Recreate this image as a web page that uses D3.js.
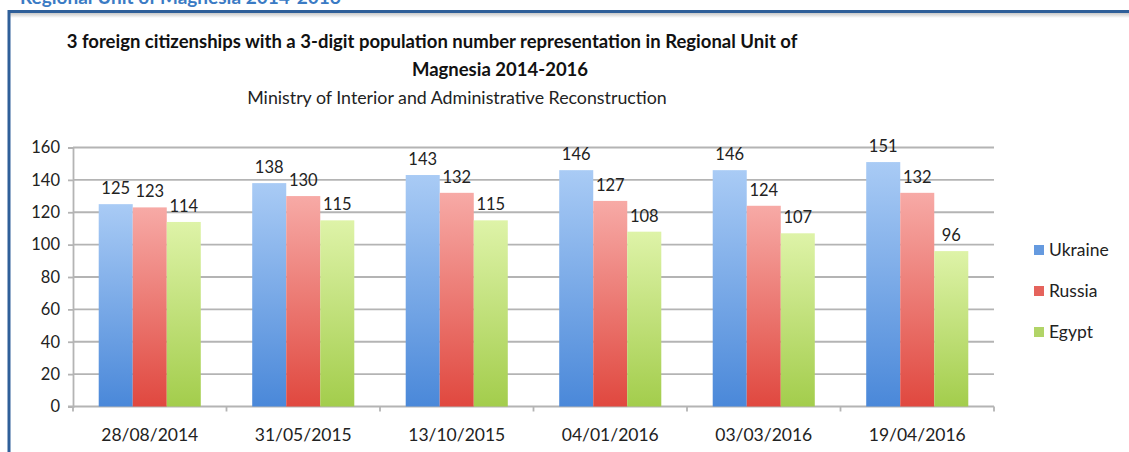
<!DOCTYPE html>
<html>
<head>
<meta charset="utf-8">
<script src="https://cdnjs.cloudflare.com/ajax/libs/d3/7.8.5/d3.min.js"></script>
<style>
  html, body { margin: 0; padding: 0; background: #fff; }
  svg { display: block; }
  text { font-family: Lato, "Open Sans", sans-serif; }
</style>
</head>
<body>
<svg id="chart" width="1129" height="452"></svg>
<script>
// Survey dates (categories)
const dates = ["28/08/2014", "31/05/2015", "13/10/2015", "04/01/2016", "03/03/2016", "19/04/2016"];
// Series
const seriesNames = ["Ukraine", "Russia", "Egypt"];
const ukraine = [125, 138, 143, 146, 146, 151];
const russia  = [123, 130, 132, 127, 124, 132];
const egypt   = [114, 115, 115, 108, 107, 96];
const yTicks = [0, 20, 40, 60, 80, 100, 120, 140, 160];

const seriesValues = [ukraine, russia, egypt];
const colors = {
  Ukraine: ["#a9cbf5", "#4a88d9"],
  Russia:  ["#f7aaa6", "#e0483f"],
  Egypt:   ["#def3a8", "#a3cd4c"]
};

const svg = d3.select("#chart");
const W = 1129, H = 452;

// gradients
const defs = svg.append("defs");
seriesNames.forEach(s => {
  const g = defs.append("linearGradient").attr("id", "grad-" + s)
    .attr("x1", 0).attr("y1", 0).attr("x2", 0).attr("y2", 1);
  g.append("stop").attr("offset", "0%").attr("stop-color", colors[s][0]);
  g.append("stop").attr("offset", "100%").attr("stop-color", colors[s][1]);
});
const shadow = defs.append("linearGradient").attr("id", "shadow")
  .attr("x1", 0).attr("y1", 0).attr("x2", 0).attr("y2", 1);
shadow.append("stop").attr("offset", "0%").attr("stop-color", "#c8c8c8");
shadow.append("stop").attr("offset", "100%").attr("stop-color", "#ffffff");

// Section heading running above the frame
svg.append("text")
  .attr("x", 20).attr("y", 4)
  .attr("font-size", 19).attr("font-weight", "bold")
  .attr("fill", "#3b7bc4")
  .text("Regional Unit of Magnesia 2014-2016");

// Frame
svg.append("rect").attr("x", 9).attr("y", 13).attr("width", W).attr("height", 5).attr("fill", "url(#shadow)");
svg.append("line").attr("x1", 8).attr("x2", W).attr("y1", 11.5).attr("y2", 11.5)
  .attr("stroke", "#2f5f99").attr("stroke-width", 3);
svg.append("line").attr("x1", 9).attr("x2", 9).attr("y1", 10).attr("y2", H)
  .attr("stroke", "#2f5f99").attr("stroke-width", 3);

// Titles
svg.append("text").attr("x", 432).attr("y", 48).attr("text-anchor", "middle")
  .attr("font-size", 18.5).attr("font-weight", "bold").attr("fill", "#111")
  .text("3 foreign citizenships with a 3-digit population number representation in Regional Unit of");
svg.append("text").attr("x", 500).attr("y", 76).attr("text-anchor", "middle")
  .attr("font-size", 18.5).attr("font-weight", "bold").attr("fill", "#111")
  .text("Magnesia 2014-2016");
svg.append("text").attr("x", 457).attr("y", 104).attr("text-anchor", "middle")
  .attr("font-size", 17.8).attr("fill", "#222")
  .text("Ministry of Interior and Administrative Reconstruction");

// Scales
const plotL = 73, plotR = 994, plotT = 147.5, plotB = 406.5;
const y = d3.scaleLinear().domain([0, 160]).range([plotB, plotT]);
const x0 = d3.scaleBand().domain(dates).range([plotL, plotR]).paddingInner(0).paddingOuter(0);
const groupW = x0.bandwidth() * 0.665;
const x1 = d3.scaleBand().domain(seriesNames).range([0, groupW]);

// Gridlines
svg.append("g").selectAll("line").data(yTicks.slice(1)).join("line")
  .attr("x1", plotL).attr("x2", plotR)
  .attr("y1", d => y(d)).attr("y2", d => y(d))
  .attr("stroke", "#b4b4b4").attr("stroke-width", 1.8);

// Y axis
const yAxis = d3.axisLeft(y).tickValues(yTicks).tickSize(5).tickPadding(8);
const gy = svg.append("g").attr("transform", `translate(${plotL},0)`).call(yAxis);
gy.select(".domain").attr("stroke", "#b4b4b4").attr("stroke-width", 1.8);
gy.selectAll(".tick line").attr("stroke", "#b4b4b4").attr("stroke-width", 1.8);
gy.selectAll(".tick text").attr("font-size", 16.5).attr("fill", "#222")
  .style("font-family", "Lato, sans-serif");

// X axis (ticks at category boundaries)
const bounds = dates.map(d => x0(d)).concat([plotR]);
svg.append("line").attr("x1", plotL - 5).attr("x2", plotR)
  .attr("y1", plotB).attr("y2", plotB).attr("stroke", "#b4b4b4").attr("stroke-width", 1.8);
svg.append("g").selectAll("line").data(bounds).join("line")
  .attr("x1", d => d).attr("x2", d => d)
  .attr("y1", plotB).attr("y2", plotB + 5)
  .attr("stroke", "#b4b4b4").attr("stroke-width", 1.8);
svg.append("g").selectAll("text").data(dates).join("text")
  .attr("x", d => x0(d) + x0.bandwidth() / 2)
  .attr("y", 441)
  .attr("text-anchor", "middle")
  .attr("font-size", 17.5).attr("fill", "#222")
  .text(d => d);

// Bars
const groups = svg.append("g").selectAll("g").data(dates).join("g")
  .attr("transform", d => `translate(${x0(d) + (x0.bandwidth() - groupW) / 2},0)`);
groups.each(function (date, i) {
  const g = d3.select(this);
  const rows = seriesNames.map((s, k) => ({ s, v: seriesValues[k][i] }));
  g.selectAll("rect").data(rows).join("rect")
    .attr("x", d => x1(d.s))
    .attr("width", x1.bandwidth())
    .attr("y", d => y(d.v))
    .attr("height", d => plotB - y(d.v))
    .attr("fill", d => `url(#grad-${d.s})`);
  g.selectAll("text").data(rows).join("text")
    .attr("x", d => x1(d.s) + x1.bandwidth() / 2)
    .attr("y", d => y(d.v) - 10)
    .attr("text-anchor", "middle")
    .attr("font-size", 16.5).attr("fill", "#222")
    .text(d => d.v);
});

// Legend
const legend = svg.append("g").selectAll("g").data(seriesNames).join("g")
  .attr("transform", (d, i) => `translate(1034,${250 + i * 41})`);
legend.append("rect").attr("x", 0).attr("y", -5).attr("width", 10).attr("height", 10)
  .attr("fill", d => colors[d][1]).attr("opacity", 0.85);
legend.append("text").attr("x", 15).attr("y", 6)
  .attr("font-size", 17.5).attr("fill", "#222")
  .text(d => d);
</script>
</body>
</html>
